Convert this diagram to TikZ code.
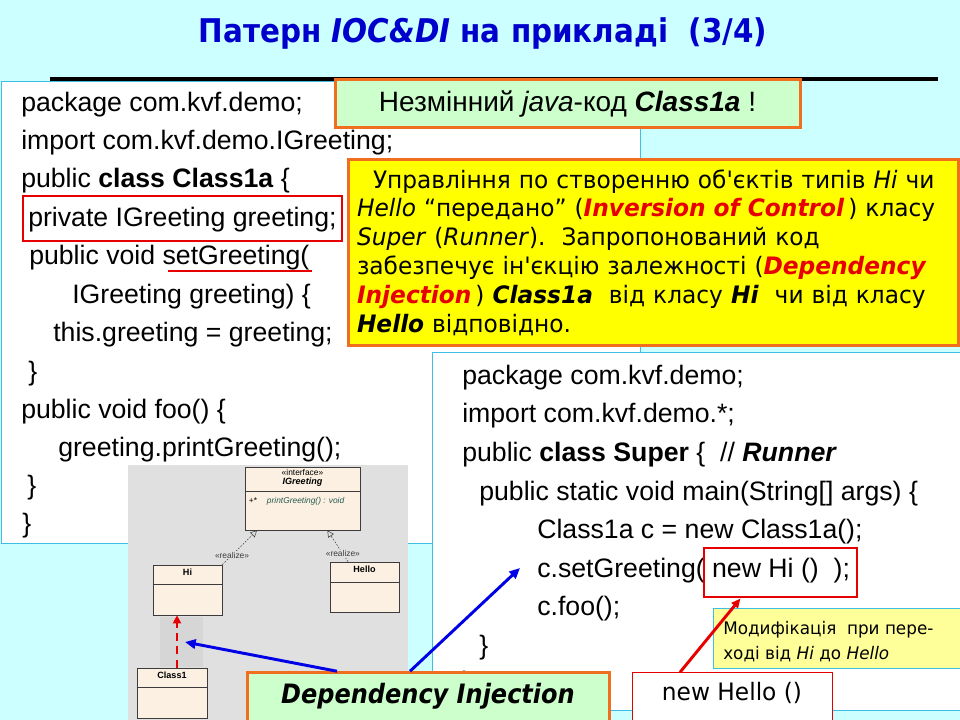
\documentclass[tikz,border=0pt]{standalone}
\usepackage{fontspec}
\setmainfont{Liberation Sans}
\newfontfamily\tahoma[FakeStretch=0.97]{DejaVu Sans}
\newfontfamily\tahomab[FakeStretch=0.9]{DejaVu Sans}
\usetikzlibrary{positioning, arrows.meta, shapes}
\definecolor{slidebg}{RGB}{204,255,255}
\definecolor{panelc}{RGB}{60,190,230}
\definecolor{titleblue}{RGB}{0,0,204}
\definecolor{orangec}{RGB}{240,110,30}
\definecolor{greenc}{RGB}{204,255,204}
\definecolor{yellowc}{RGB}{255,255,0}
\definecolor{notec}{RGB}{255,255,153}
\definecolor{umlbg}{RGB}{224,224,224}
\definecolor{umlshade}{RGB}{214,214,214}
\definecolor{umlfill}{RGB}{251,240,226}
\definecolor{umlborder}{RGB}{60,60,60}
\definecolor{umlgreen}{RGB}{40,90,80}
\definecolor{diblue}{RGB}{0,0,230}
\definecolor{redc}{RGB}{230,0,0}
\newcommand{\px}[1]{#1*0.75pt}

\begin{document}
\begin{tikzpicture}[x=0.75pt, y=-0.75pt,
    code/.style={font=\fontsize{20}{24}\selectfont, anchor=base west, inner sep=0pt},
    panel/.style={draw=panelc, fill=white, line width=0.75pt},
    orangebox/.style={draw=orangec, line width=2.25pt},
    umlbox/.style={draw=umlborder, fill=umlfill, line width=0.5pt, inner sep=0pt},
    umltext/.style={font=\fontsize{6.3}{7}\selectfont, inner sep=0.5pt},
    umlname/.style={font=\fontsize{6.8}{7}\selectfont\bfseries, inner sep=0.5pt},
    sepline/.style={draw=umlborder, line width=0.5pt},
    realize/.style={color=umlborder, line width=0.4pt, dash pattern=on 1.2pt off 1.2pt, -{Triangle[open, length=5pt, width=5pt]}},
    bluearrow/.style={color=diblue, line width=2.2pt, -{Triangle[length=8pt, width=7pt]}},
    redarrow/.style={color=redc, line width=2.2pt, -{Triangle[length=7pt, width=6pt]}}]
  \useasboundingbox (0,0) rectangle (960,720);
  \fill[slidebg] (0,0) rectangle (960,720);

  % title
  \node[font=\tahomab\bfseries\fontsize{24.5}{28}\selectfont, text=titleblue, anchor=base] (title) at (483,43)
    {Патерн \textit{IOC\&DI} на прикладі\ \ (3/4)};
  \draw[line width=3pt] (50,79) -- (938,79);

  % Class1a
  \draw[panel] (1,82) rectangle (640,543);
  \node[code] (l1) at (21,112) {package com.kvf.demo;};
  \node[code] (l2) at (21,150) {import com.kvf.demo.IGreeting;};
  \node[code] (l3) at (21,188) {public \textbf{class Class1a} \{};
  \node[code] (l4) at (28,227) {private IGreeting greeting;};
  \node[code] (l5) at (29,265) {public void setGreeting(};
  \node[code] (l6) at (72,303) {IGreeting greeting) \{};
  \node[code] (l7) at (53,341) {this.greeting = greeting;};
  \node[code] (l8) at (28,380) {\}};
  \node[code] (l9) at (21,418) {public void foo() \{};
  \node[code] (l10) at (58,456) {greeting.printGreeting();};
  \node[code] (l11) at (27,494) {\}};
  \node[code] (l12) at (22,532) {\}};
  \draw[redc, line width=2.2pt] (23,196) rectangle (342,241);
  \draw[redc, line width=2pt] (168,271) -- (312,271);

  % Super
  \draw[panel] (432,352) rectangle (962,710);
  \node[code] (r1) at (462,384) {package com.kvf.demo;};
  \node[code] (r2) at (462,422) {import com.kvf.demo.*;};
  \node[code] (r3) at (462,461) {public \textbf{class Super} \{\ \ // \textbf{\textit{Runner}}};
  \node[code] (r4) at (479,500) {public static void main(String[] args) \{};
  \node[code] (r5) at (537,538) {Class1a c = new Class1a();};
  \node[code] (r6) at (537,577) {c.setGreeting( new Hi ()\ \ );};
  \node[code] (r7) at (537,615) {c.foo();};
  \node[code] (r8) at (479,654) {\}};
  \node[code] (r9) at (462,690) {\}};
  \node[draw=redc, line width=2.2pt, minimum width=\px{153}, minimum height=\px{49}] (newhi) at (780.5,572.5) {};

  % boxes
  \node[orangebox, fill=greenc, minimum width=\px{465}, minimum height=\px{48}, font=\fontsize{21}{24}\selectfont] (fixed) at (567.5,104)
    {Незмінний \textit{java}-код \textbf{\textit{Class1a}} !};
  \node[orangebox, fill=yellowc, minimum width=\px{610}, minimum height=\px{185}, text width=\px{592}, align=left, inner sep=0pt,
    font=\tahoma\fontsize{18}{21.6}\selectfont] (ioc) at (653,252.5)
    {\ \ Управління по створенню об'єктів типів \textit{Hi} чи\\
     \textit{Hello} “передано” (\textcolor{redc}{\textbf{\textit{Inversion of Control}}}\,) класу\\
     \textit{Super} (\textit{Runner}).\ \ Запропонований код\\
     забезпечує ін'єкцію залежності (\textcolor{redc}{\textbf{\textit{Dependency}}}\\
     \textcolor{redc}{\textbf{\textit{Injection}}}\,) \textbf{\textit{Class1a}}\ \ від класу \textbf{\textit{Hi}}\ \ чи від класу\\
     \textbf{\textit{Hello}} відповідно.};
  \node[draw=panelc, fill=notec, line width=0.75pt, minimum width=\px{247}, minimum height=\px{60}] (note) at (836.5,638) {};
  \node[anchor=north west, inner sep=0pt, align=left, font=\tahoma\fontsize{13}{18.75}\selectfont] (notetext) at (723,621)
    {Модифікація\ \ при пере-\\ході від \textit{Hi} до \textit{Hello}};

  % UML
  \fill[umlbg] (128,465) rectangle (408,722);
  \fill[umlshade] (160,617) rectangle (203,667);
  \node[umlbox, minimum width=\px{115}, minimum height=\px{63}] (igreet) at (302.5,498.5) {};
  \node[umltext, below=\px{2} of igreet.north] (igster) {«interface»};
  \node[umlname, below=0pt of igster, font=\fontsize{6.8}{7}\selectfont\bfseries\itshape] (igname) {IGreeting};
  \draw[sepline] ([yshift=-\px{25}]igreet.north west) -- ([yshift=-\px{25}]igreet.north east);
  \node[umltext, anchor=west] (igplus) at (248,501) {+*};
  \node[umltext, anchor=west, text=umlgreen, font=\fontsize{6.3}{7}\selectfont\itshape] (igop) at (266,501) {printGreeting() : void};
  \node[umlbox, minimum width=\px{69}, minimum height=\px{50}] (hi) at (187.5,590) {};
  \node[umlname, below=\px{3} of hi.north] (hiname) {Hi};
  \draw[sepline] ([yshift=-\px{20}]hi.north west) -- ([yshift=-\px{20}]hi.north east);
  \node[umlbox, minimum width=\px{69}, minimum height=\px{50}] (hello) at (364.5,587) {};
  \node[umlname, below=\px{3} of hello.north] (helloname) {Hello};
  \draw[sepline] ([yshift=-\px{21}]hello.north west) -- ([yshift=-\px{21}]hello.north east);
  \node[umlbox, minimum width=\px{70}, minimum height=\px{50}] (class1) at (172,693) {};
  \node[umlname, below=\px{3} of class1.north] (class1name) {Class1};
  \draw[sepline] ([yshift=-\px{20}]class1.north west) -- ([yshift=-\px{20}]class1.north east);
  \path[realize] (hi.north east) edge node[umltext, fill=umlbg, pos=.28] {«realize»} (igreet.215);
  \path[realize] (hello.123) edge node[umltext, fill=umlbg, pos=.25] {«realize»} (igreet.308);
  \coordinate (injfrom) at ([xshift=\px{5}]class1.north);
  \draw[redc, line width=2.2pt, dash pattern=on 6pt off 4pt, -{Triangle[length=6pt, width=6pt]}] (injfrom) -- (injfrom |- hi.south);

  % Dependency Injection
  \node[orangebox, fill=greenc, font=\tahomab\bfseries\itshape\fontsize{20}{24}\selectfont, minimum width=\px{362},
    anchor=base, inner ysep=\px{10}, text depth=\px{40}] (dep) at (428,703) {Dependency Injection};
  \node[draw=redc, fill=white, line width=0.75pt, font=\tahoma\fontsize{18}{22}\selectfont, minimum width=\px{200},
    anchor=base, inner ysep=\px{9}, text depth=\px{40}] (newhello) at (732,700) {new Hello ()};
  \coordinate (ditip) at (185,642);
  \coordinate (settip) at (520,568);
  \path[bluearrow] ([xshift=-\px{91}]dep.north) edge (ditip);
  \path[bluearrow] ([xshift=-\px{18}]dep.north) edge (settip);
  \path[redarrow] ([xshift=-\px{52}]newhello.north) edge (newhi.213);
\end{tikzpicture}
\end{document}
